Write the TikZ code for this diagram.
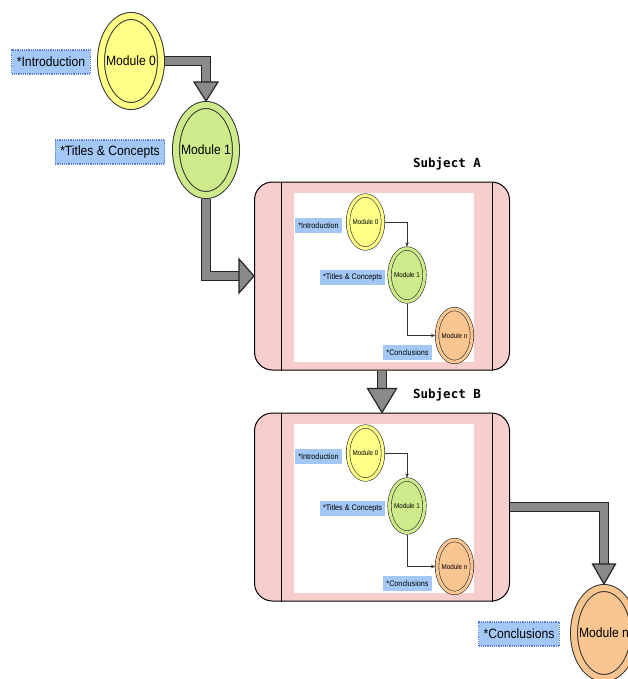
\documentclass[tikz,border=0pt]{standalone}
\usepackage{fontspec}
\usetikzlibrary{shapes.geometric,arrows.meta}
\newfontfamily\lblfont{Liberation Sans}[FakeStretch=0.9]
\newfontfamily\subjfont{DejaVu Sans Mono}
\definecolor{modyellow}{HTML}{FFFF88}
\definecolor{modgreen}{HTML}{CDEB8B}
\definecolor{modorange}{HTML}{F9C590}
\definecolor{lblblue}{HTML}{A3C8F5}
\definecolor{lbledge}{HTML}{5C7ED8}
\definecolor{subjpink}{HTML}{F8CECC}
\definecolor{bargray}{HTML}{8A8A8A}
\newcommand{\mtxt}[1]{\makebox[0pt]{#1}}

\begin{document}
\begin{tikzpicture}[x=1pt, y=-1pt,
  bigmod/.style={ellipse, draw=black!80, line width=1pt, fill=#1, double=#1, double distance=6pt,
    minimum width=60pt, minimum height=90pt, inner sep=0pt, outer sep=4pt,
    font=\lblfont\fontsize{13.5}{15}\selectfont},
  smallmod/.style={ellipse, draw=black!80, line width=0.6pt, fill=#1, double=#1, double distance=3pt,
    minimum width=35pt, minimum height=53pt, inner sep=0pt, outer sep=2pt,
    font=\lblfont\fontsize{7}{8}\selectfont},
  biglbl/.style={fill=lblblue, draw=lbledge, densely dotted, line width=1.2pt, inner xsep=5pt,
    minimum height=24pt, font=\lblfont\fontsize{13.5}{15}\selectfont},
  smalllbl/.style={fill=lblblue, inner xsep=3pt, minimum height=15pt,
    font=\lblfont\fontsize{8}{9}\selectfont},
  subj/.style={draw=black, line width=1pt, fill=subjpink, rounded corners=18pt,
    minimum width=255pt, minimum height=188pt},
  bar/.style={draw=black!85, line width=1.2pt, double=bargray, double distance=8pt, line join=miter},
  barhead/.style={fill=bargray, draw=black!85, line width=1.2pt, line join=miter},
  flow/.style={draw=black!80, line width=0.6pt, -{Stealth[length=4pt,width=3.5pt]}}]

\useasboundingbox (0,0) rectangle (627,679);

% subjects
\foreach \s/\cy in {A/276, B/507}{
  \node[subj] (\s) at (382,\cy) {};
  \fill[white] ([xshift=40pt,yshift=-11pt]\s.north west) rectangle ([xshift=-36pt,yshift=9pt]\s.south east);
  \draw[line width=1pt] ([xshift=27pt]\s.north west) -- ([xshift=27pt]\s.south west);
  \draw[line width=1pt] ([xshift=-18pt]\s.north east) -- ([xshift=-18pt]\s.south east);
  \begin{scope}[shift={(382,\cy)}]
    \node[smallmod=modyellow] (im0\s) at (-16.5,-54) {\mtxt{Module 0}};
    \node[smalllbl] (iin\s) at (-63.5,-50.5) {*Introduction};
    \node[smallmod=modgreen] (im1\s) at (25,-1) {\mtxt{Module 1}};
    \node[smalllbl] (iti\s) at (-29.5,1) {*Titles \& Concepts};
    \node[smallmod=modorange] (imn\s) at (72.5,59.5) {\mtxt{Module n}};
    \node[smalllbl] (ico\s) at (25.5,76.5) {*Conclusions};
  \end{scope}
  \draw[flow] (im0\s.east) -| (im1\s.north);
  \draw[flow] (im1\s.south) |- (imn\s.west);
  \node[font=\subjfont\bfseries\fontsize{12.5}{14}\selectfont] (t\s) at (447,\cy-112) {Subject \s};
}

% modules
\node[biglbl] (in) at (51,62) {*Introduction};
\node[bigmod=modyellow] (m0) at (131,61) {\mtxt{Module 0}};

\node[biglbl] (ti) at (110,152) {*Titles \& Concepts};
\node[bigmod=modgreen] (m1) at (206,150) {\mtxt{Module 1}};

\node[biglbl] (co) at (519,634) {*Conclusions};
\node[bigmod=modorange] (mn) at (604,633) {\mtxt{Module n}};

% arrows
\draw[bar] (m0.east) -| ([yshift=19pt]m1.north);
\draw[barhead] (m1.north) -- ++(-12,-19) -- ++(24,0) -- cycle;

\draw[bar] (m1.south) |- ([xshift=-15pt]A.west);
\draw[barhead] (A.west) -- ++(-15,-17) -- ++(0,34) -- cycle;

\draw[bar] (A.south) -- ([yshift=24pt]B.north);
\draw[barhead] (B.north) -- ++(-14.5,-24) -- ++(29,0) -- cycle;

\draw[bar] (B.east) -| ([yshift=20pt]mn.north);
\draw[barhead] (mn.north) -- ++(-11.5,-20) -- ++(23,0) -- cycle;

\end{tikzpicture}
\end{document}
